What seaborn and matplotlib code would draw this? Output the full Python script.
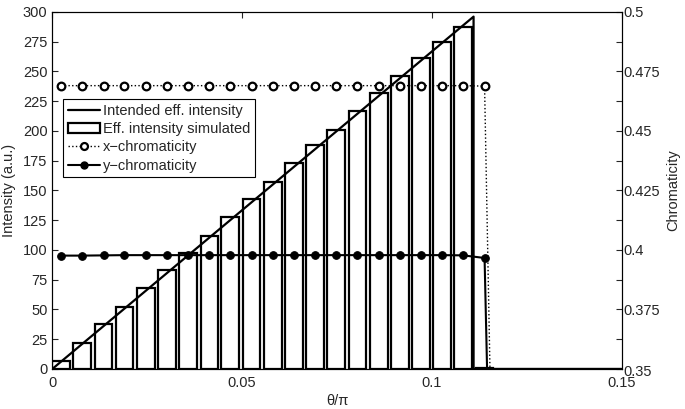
import numpy as np
import pandas as pd
import matplotlib
matplotlib.use("Agg")
import matplotlib.pyplot as plt
from matplotlib.lines import Line2D
from matplotlib.patches import Patch
from matplotlib.transforms import ScaledTranslation
import seaborn as sns

# sampled angles (theta/pi) and simulated effective intensity
theta = [0.0023, 0.0079, 0.0135, 0.0190, 0.0246, 0.0302, 0.0358, 0.0414,
         0.0469, 0.0525, 0.0581, 0.0637, 0.0693, 0.0748, 0.0804, 0.0860,
         0.0916, 0.0972, 0.1027, 0.1083, 0.1139]
eff_sim = [7, 22, 37.5, 52, 68, 83, 97.5, 112, 128, 143, 157, 173, 188,
           201, 216.5, 232, 246, 261, 275, 287.5, 1]

# intended effective intensity (ramp then cut-off)
int_x = [0.0, 0.111, 0.111, 0.15]
int_y = [0, 296, 0, 0]

# chromaticity (one extra sample after cut-off drops to zero)
chrom_theta = theta + [0.1195]
x_chrom = [0.469] * 20 + [0.4688, 0.0]
y_chrom = [0.3976, 0.3976, 0.3977, 0.3978, 0.3978, 0.3978, 0.3978, 0.3978,
           0.3978, 0.3978, 0.3978, 0.3978, 0.3978, 0.3978, 0.3978, 0.3978,
           0.3978, 0.3978, 0.3978, 0.3977, 0.3966, 0.0]

right_ticks = [0.35, 0.375, 0.4, 0.425, 0.45, 0.475, 0.5]
right_labels = ["0.35", "0.375", "0.4", "0.425", "0.45", "0.475", "0.5"]

sns.set_style("white")
plt.rcParams["font.family"] = ["Liberation Sans", "DejaVu Sans"]
plt.rcParams["font.size"] = 10.5

fig = plt.figure(figsize=(6.85, 4.09), dpi=100)
ax = fig.add_axes([0.0764, 0.098, 0.831, 0.873])

bars = pd.DataFrame({"theta": theta, "eff": eff_sim})
sns.barplot(data=bars, x="theta", y="eff", native_scale=True, width=0.85,
            color="white", edgecolor="black", linewidth=1.6, errorbar=None,
            saturation=1, ax=ax)

intended = pd.DataFrame({"x": int_x, "y": int_y})
sns.lineplot(data=intended, x="x", y="y", sort=False, estimator=None,
             color="black", linewidth=1.6, ax=ax)

ax.set_xlim(0, 0.15)
ax.set_ylim(0, 300)
ax.set_xticks([0, 0.05, 0.1, 0.15])
ax.set_xticklabels(["0", "0.05", "0.1", "0.15"])
ax.set_yticks(np.arange(0, 301, 25))
ax.set_xlabel("θ/π", labelpad=3)
ax.set_ylabel("Intensity (a.u.)", labelpad=5)
ax.tick_params(axis="y", direction="in", length=4, width=0.8, right=False,
               pad=3.5)
ax.tick_params(axis="x", direction="in", length=4, width=0.8, top=True,
               pad=5)

ax2 = ax.twinx()
chrom = pd.DataFrame({"theta": chrom_theta, "x": x_chrom, "y": y_chrom})
sns.lineplot(data=chrom, x="theta", y="x", sort=False, estimator=None,
             color="black", linestyle=":", linewidth=1.0, marker="o",
             markersize=5.5, markerfacecolor="white", markeredgecolor="black",
             markeredgewidth=1.6, ax=ax2)
sns.lineplot(data=chrom, x="theta", y="y", sort=False, estimator=None,
             color="black", linewidth=1.5, marker="o", markersize=5.5,
             markerfacecolor="black", markeredgecolor="black", ax=ax2)
ax2.set_ylim(0.35, 0.5)
ax2.set_yticks(right_ticks)
ax2.set_yticklabels(right_labels)
ax2.set_yticks(np.arange(0.35, 0.501, 0.0125), minor=True)
ax2.tick_params(which="both", direction="in", length=4, width=0.8, pad=1)
ax2.set_ylabel("Chromaticity", labelpad=5)
ax2.set_xlabel("")
ax.set_xlim(0, 0.15)

# lowest right label sits a touch below the axis corner
low = ax2.get_yticklabels()[0]
low.set_transform(low.get_transform()
                  + ScaledTranslation(0, -0.02, fig.dpi_scale_trans))

for a in (ax, ax2):
    for s in a.spines.values():
        s.set_color("black")
        s.set_linewidth(0.8)

handles = [
    Line2D([], [], color="black", linewidth=1.6),
    Patch(facecolor="white", edgecolor="black", linewidth=1.6),
    Line2D([], [], color="black", linestyle=":", linewidth=1.0, marker="o",
           markersize=5, markerfacecolor="white", markeredgewidth=1.6),
    Line2D([], [], color="black", linewidth=1.5, marker="o", markersize=5),
]
labels = ["Intended eff. intensity", "Eff. intensity simulated",
          "x\u2212chromaticity", "y\u2212chromaticity"]
leg = ax2.legend(handles, labels, loc="upper left",
                 bbox_to_anchor=(0.019, 0.755), borderaxespad=0,
                 fancybox=False, framealpha=1, edgecolor="black",
                 handlelength=2.2, handletextpad=0.25, labelspacing=0.3,
                 borderpad=0.3, fontsize=10.5)
leg.get_frame().set_linewidth(0.8)

fig.savefig("out.png", dpi=100)
